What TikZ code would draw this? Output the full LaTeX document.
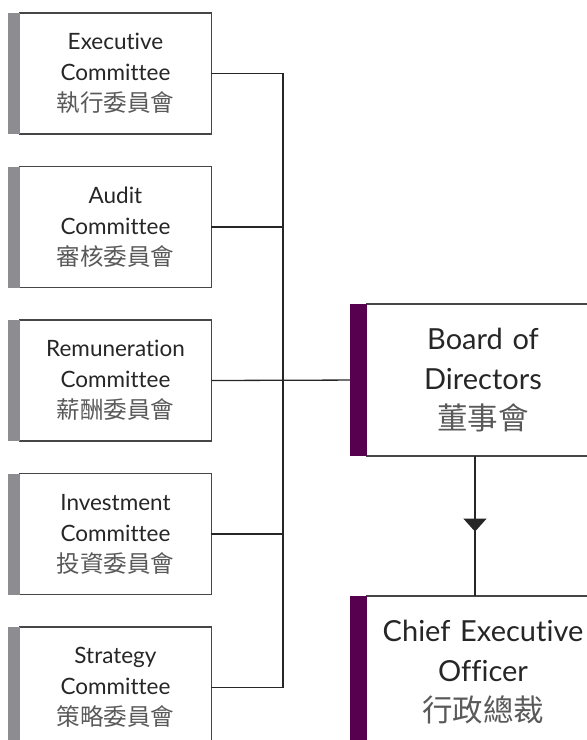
\documentclass[tikz,border=0pt]{standalone}
\usepackage{fontspec}
\setmainfont{Lato}[Ligatures=NoCommon]
\newfontfamily\cjk{Noto Sans CJK TC}
\usepackage{tikz}
\usetikzlibrary{arrows.meta,positioning,decorations.markings}
\definecolor{barGray}{RGB}{140,140,145}
\definecolor{barPlum}{RGB}{88,0,80}
\definecolor{lineGray}{RGB}{70,70,70}
\newcommand{\cnline}[1]{{\fontsize{\cnsize}{31}\cjk\color{black!65}#1}}

\begin{document}
\begin{tikzpicture}[
	x=1pt, y=-1pt,
	node distance=32.5pt,
	committee/.style={
		rectangle,
		draw=lineGray,
		line width=1.2pt,
		outer sep=0pt,
		minimum width=189pt,
		minimum height=121pt,
		text width=185pt,
		align=center,
		text=black!85,
		font=\fontsize{22.5}{31}\selectfont\def\cnsize{23.5}
		},
	head/.style={
		committee,
		minimum width=226pt,
		minimum height=152pt,
		text width=226pt,
		font=\fontsize{29}{40}\selectfont\def\cnsize{30.5}
	},
	link/.style={
		draw=black!85,
		line width=1.3pt
	},
	midarrow/.style={
		postaction={decorate},
		decoration={markings,
			mark=at position 0.54 with {\arrow{Triangle[length=13pt,width=23pt]}}}
	}
]
\useasboundingbox (0,0) rectangle (587,740);
\clip (0,0) rectangle (587,740);

% Committees
\node [committee] (Executive) at (115.5,73.5) {Executive\\Committee\\\cnline{執行委員會}};
\node [committee, below=of Executive] (Audit) {Audit\\Committee\\\cnline{審核委員會}};
\node [committee, below=of Audit] (Remuneration) {Remuneration\\Committee\\\cnline{薪酬委員會}};
\node [committee, below=of Remuneration] (Investment) {Investment\\Committee\\\cnline{投資委員會}};
\node [committee, below=of Investment] (Strategy) {Strategy\\Committee\\\cnline{策略委員會}};

% Board and CEO
\node [head] (Board) at (483,380) {Board of\\Directors\\\cnline{董事會}};
\node [head, below=140pt of Board] (CEO) {Chief Executive\\Officer\\\cnline{行政總裁}};

% Connectors
\coordinate (spine) at (283,0);
\draw [link] (Executive.east) -| (spine |- Strategy.east) -- (Strategy.east);
\draw [link] (Audit.east) -- (spine |- Audit.east);
\draw [link] (Investment.east) -- (spine |- Investment.east);
\draw [link] (Remuneration.east) -- (Board.west);
\draw [link, midarrow] ([xshift=-8pt]Board.south) -- ([xshift=-8pt]CEO.north);

% Side bars
\foreach \c in {Executive,Audit,Remuneration,Investment,Strategy}
	\fill [barGray] ([xshift=-12pt]\c.north west) rectangle (\c.south west);
\foreach \c in {Board,CEO}
	\fill [barPlum] ([xshift=-17pt]\c.north west) rectangle (\c.south west);

\end{tikzpicture}
\end{document}
